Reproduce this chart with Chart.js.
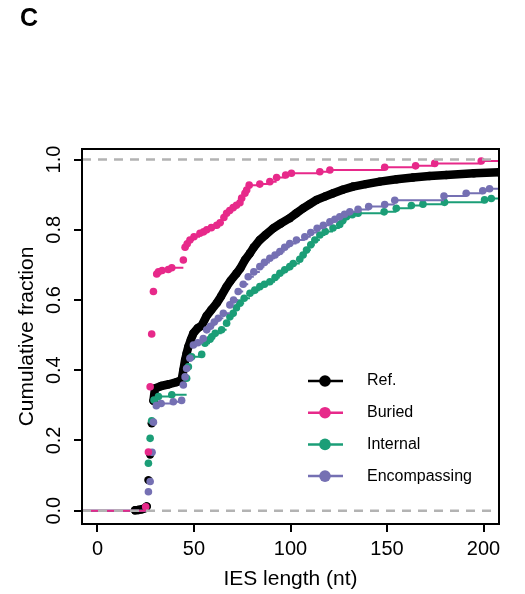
<!DOCTYPE html>
<html>
<head>
<meta charset="utf-8">
<script src="https://cdn.jsdelivr.net/npm/chart.js@4/dist/chart.umd.min.js"></script>
<style>
  html, body { margin: 0; padding: 0; background: #fff; }
</style>
</head>
<body>
<canvas id="ecdfChart" width="525" height="594"></canvas>
<script>
// ECDF knots: IES length (nt) -> cumulative fraction
const refLen = [19.5, 21, 23, 24.5, 25.5, 26.4, 27.3, 28.1, 29, 29.8, 33, 37, 41, 43.6, 44.5, 45.4, 46.2, 47.1, 48.4, 49.7, 52, 54,
  56.6, 59, 61.8, 64, 66.9, 69, 72.1, 74, 76.4, 79, 81, 84.1, 87, 91, 95, 99.6, 103, 106.5, 110, 113.5,
  118, 122.1, 127, 132.4, 139, 146.2, 155, 163.4, 172, 180.7, 195, 208];
const refFrac = [0.001, 0.002, 0.004, 0.007, 0.012, 0.087, 0.16, 0.249, 0.313, 0.348, 0.355, 0.36, 0.366, 0.372, 0.40, 0.429, 0.448, 0.467, 0.487, 0.505, 0.52, 0.527,
  0.555, 0.572, 0.591, 0.61, 0.638, 0.655, 0.676, 0.69, 0.714, 0.733, 0.75, 0.771, 0.785, 0.804, 0.818, 0.833, 0.847, 0.861, 0.873, 0.885,
  0.895, 0.904, 0.914, 0.923, 0.930, 0.937, 0.944, 0.949, 0.953, 0.956, 0.961, 0.964];

const buriedLen = [25, 26.4, 27.3, 28.1, 29, 30.7, 31.6, 33.5, 36.7, 38.5, 44.5, 45.4, 46.5, 47.9, 50, 53.1, 55, 56.6, 59, 61.8,
  63.5, 65.5, 66.9, 68.5, 70.3, 72, 73.8, 74.7, 76.4, 77.3, 78.6, 84.1, 89.3, 92.8, 97.5, 100.5, 115.2, 120.4, 148.8, 164.8,
  174.7, 198.8];
const buriedFrac = [0.011, 0.167, 0.353, 0.503, 0.624, 0.674, 0.68, 0.684, 0.687, 0.692, 0.714, 0.75, 0.76, 0.771, 0.78, 0.79, 0.794, 0.80, 0.806, 0.813,
  0.82, 0.835, 0.847, 0.855, 0.863, 0.87, 0.877, 0.89, 0.904, 0.913, 0.927, 0.930, 0.937, 0.949, 0.956, 0.961, 0.965, 0.970, 0.978, 0.982,
  0.989, 0.996];

const internalLen = [26.4, 27.3, 28.1, 29.3, 31.6, 38.5, 46.2, 47.1, 48.8, 54, 55.7, 58.3, 59.2, 61, 64.3, 66.9, 68.6, 70.3, 72, 73.8,
  76, 79, 81.5, 84.1, 86.5, 89.3, 92, 94.5, 97, 99.6, 101.4, 104.8, 106.5, 108.3, 110.5, 112.6, 115.2, 118, 122, 125.5,
  127, 129, 132, 135, 148.5, 154.8, 162.6, 168.6, 179.8, 200.5, 204];
const internalFrac = [0.135, 0.206, 0.256, 0.315, 0.325, 0.33, 0.377, 0.41, 0.438, 0.445, 0.477, 0.488, 0.495, 0.505, 0.515, 0.534, 0.552, 0.562, 0.578, 0.591,
  0.605, 0.619, 0.628, 0.638, 0.645, 0.652, 0.664, 0.676, 0.686, 0.695, 0.704, 0.716, 0.728, 0.742, 0.757, 0.771, 0.785, 0.795, 0.805, 0.815,
  0.826, 0.837, 0.843, 0.847, 0.851, 0.861, 0.869, 0.873, 0.878, 0.885, 0.889];

const encompLen = [26.4, 27.3, 28.3, 29, 30.5, 33, 39.3, 43.6, 44.5, 45.4, 46.2, 47.9, 49.7, 52, 54.8, 56.6, 58.5, 60.5, 62.6, 65.2,
  68.6, 70.5, 72.9, 75.5, 78.1, 81, 84.1, 86.5, 89.3, 92, 94.5, 97, 99.6, 103.1, 107.4, 110.5, 113.8, 117, 120.4, 123,
  125.5, 128, 130.7, 135, 140.5, 148.8, 154, 179.5, 191, 199.6, 203.1];
const encompFrac = [0.054, 0.083, 0.166, 0.252, 0.299, 0.305, 0.31, 0.314, 0.358, 0.381, 0.405, 0.434, 0.472, 0.478, 0.49, 0.515, 0.525, 0.537, 0.548, 0.562,
  0.586, 0.6, 0.624, 0.645, 0.666, 0.68, 0.695, 0.707, 0.719, 0.728, 0.738, 0.75, 0.761, 0.771, 0.780, 0.792, 0.804, 0.813, 0.823, 0.83,
  0.837, 0.844, 0.851, 0.858, 0.866, 0.872, 0.884, 0.896, 0.904, 0.911, 0.917];

const seriesNames = ['Ref.', 'Buried', 'Internal', 'Encompassing'];
const seriesColors = ['#000000', '#E7298A', '#1B9E77', '#7570B3'];
const xTicks = [0, 50, 100, 150, 200];
const yTicks = [0, 0.2, 0.4, 0.6, 0.8, 1.0];
const limitLevels = [0, 1];

const X_MIN = -8, X_MAX = 208, Y_MIN = -0.038, Y_MAX = 1.03;
const FONT = '"Liberation Sans", Arial, Helvetica, sans-serif';

// horizontal ECDF segments, dot at the left end of each (like R's plot.ecdf)
function stepData(len, frac) {
  const pts = [{x: X_MIN, y: 0}, {x: len[0], y: 0}, {x: len[0], y: null}];
  len.forEach(function(v, i) {
    const next = i + 1 < len.length ? len[i + 1] : X_MAX;
    pts.push({x: v, y: frac[i], knot: true}, {x: next, y: frac[i]}, {x: next, y: null});
  });
  return pts;
}

function makeSet(i, len, frac, order) {
  return {
    label: seriesNames[i],
    data: stepData(len, frac),
    borderColor: seriesColors[i],
    backgroundColor: seriesColors[i],
    borderWidth: 2,
    spanGaps: false,
    pointBorderWidth: 0,
    pointRadius: function(c) { return c.raw && c.raw.knot ? 3.8 : 0; },
    pointHoverRadius: 0,
    order: order
  };
}

// the reference set is so dense that its dots merge into one thick band
const refSet = {
  label: seriesNames[0],
  data: refLen.map(function(v, i) { return {x: v, y: refFrac[i]}; }),
  borderColor: seriesColors[0],
  backgroundColor: seriesColors[0],
  borderWidth: 8.5,
  borderJoinStyle: 'round',
  borderCapStyle: 'round',
  pointRadius: 4.2,
  pointBorderWidth: 0,
  pointHoverRadius: 0,
  segment: {
    borderColor: function(c) { return c.p1.parsed.y - c.p0.parsed.y > 0.05 ? 'rgba(0,0,0,0)' : '#000'; }
  },
  order: 4
};

const datasets = [
  refSet,
  makeSet(1, buriedLen, buriedFrac, 1),
  makeSet(2, internalLen, internalFrac, 3),
  makeSet(3, encompLen, encompFrac, 2)
];

const frameAndLegend = {
  id: 'frameAndLegend',
  afterDatasetsDraw(chart) {
    const ctx = chart.ctx, a = chart.chartArea, y = chart.scales.y;
    ctx.save();
    ctx.strokeStyle = '#b3b3b3';
    ctx.lineWidth = 2.5;
    ctx.setLineDash([9, 7]);
    limitLevels.forEach(function(v) {
      const py = y.getPixelForValue(v);
      ctx.beginPath();
      ctx.moveTo(a.left, py);
      ctx.lineTo(a.right, py);
      ctx.stroke();
    });
    ctx.setLineDash([]);
    ctx.strokeStyle = '#000';
    ctx.lineWidth = 2;
    ctx.strokeRect(a.left, a.top, a.right - a.left, a.bottom - a.top);
    ctx.restore();
  },
  afterDraw(chart) {
    const ctx = chart.ctx, a = chart.chartArea;
    ctx.save();
    // legend
    ctx.font = '16px ' + FONT;
    ctx.textBaseline = 'middle';
    ctx.textAlign = 'left';
    seriesNames.forEach(function(name, i) {
      const py = a.top + 232 + i * 31.7;
      ctx.strokeStyle = seriesColors[i];
      ctx.lineWidth = 2.5;
      ctx.beginPath();
      ctx.moveTo(a.left + 226, py);
      ctx.lineTo(a.left + 261, py);
      ctx.stroke();
      ctx.fillStyle = seriesColors[i];
      ctx.beginPath();
      ctx.arc(a.left + 243, py, 5.8, 0, Math.PI * 2);
      ctx.fill();
      ctx.fillStyle = '#000';
      ctx.fillText(name, a.left + 285, py);
    });
    // panel letter
    ctx.font = 'bold 25px ' + FONT;
    ctx.textBaseline = 'middle';
    ctx.fillText('C', 20, 19);
    ctx.restore();
  }
};

const ctx = document.getElementById('ecdfChart').getContext('2d');
const ecdfChart = new Chart(ctx, {
  type: 'line',
  data: { datasets: datasets },
  options: {
    responsive: false,
    animation: false,
    layout: { padding: { top: 149, right: 26, left: 0, bottom: 0 } },
    plugins: {
      legend: { display: false },
      tooltip: { enabled: false }
    },
    scales: {
      x: {
        type: 'linear',
        min: X_MIN,
        max: X_MAX,
        afterFit: function(s) { s.height = 70; },
        afterBuildTicks: function(s) { s.ticks = xTicks.map(function(v) { return {value: v}; }); },
        grid: { drawOnChartArea: false, drawTicks: true, tickLength: 8, color: '#000', lineWidth: 2 },
        border: { display: true, color: '#000', width: 2 },
        ticks: { color: '#000', font: { size: 20, family: FONT }, padding: 5, maxRotation: 0, autoSkip: false },
        title: { display: true, text: 'IES length (nt)', color: '#000', font: { size: 21, family: FONT }, padding: { top: 0, bottom: 2 } }
      },
      y: {
        type: 'linear',
        min: Y_MIN,
        max: Y_MAX,
        afterFit: function(s) { s.width = 82; },
        afterBuildTicks: function(s) { s.ticks = yTicks.map(function(v) { return {value: v}; }); },
        grid: { drawOnChartArea: false, drawTicks: true, tickLength: 8, color: '#000', lineWidth: 2 },
        border: { display: true, color: '#000', width: 2 },
        ticks: {
          color: '#000',
          font: { size: 20, family: FONT },
          minRotation: 90,
          maxRotation: 90,
          crossAlign: 'center',
          padding: 6,
          autoSkip: false,
          callback: function(v) { return v.toFixed(1); }
        },
        title: { display: true, text: 'Cumulative fraction', color: '#000', font: { size: 21, family: FONT }, padding: { top: 15, bottom: 0 } }
      }
    }
  },
  plugins: [frameAndLegend]
});
</script>
</body>
</html>
